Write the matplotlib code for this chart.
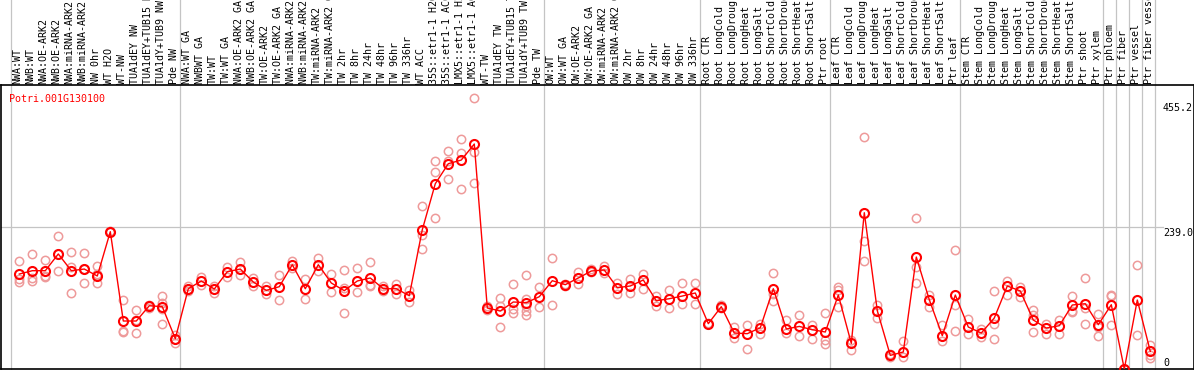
import matplotlib
matplotlib.use("Agg")
import matplotlib.pyplot as plt

# ---------------- data ----------------
gene_id = "Potri.001G130100"

sample_labels = [
    "NWA:WT", "NWB:WT", "NWA:OE-ARK2", "NWB:OE-ARK2", "NWA:miRNA-ARK2", "NWB:miRNA-ARK2",
    "NW 0hr", "WT H2O", "WT-NW", "TUA1dEY NW", "TUA1dEY+TUB15 NW", "TUA1dY+TUB9 NW", "Pde NW",
    "NWA:WT GA", "NWBWT GA", "TW:WT", "TW:WT GA", "NWA:OE-ARK2 GA", "NWB:OE-ARK2 GA",
    "TW:OE-ARK2", "TW:OE-ARK2 GA", "NWA:miRNA-ARK2 GA", "NWB:miRNA-ARK2 GA", "TW:miRNA-ARK2",
    "TW:miRNA-ARK2 GA", "TW 2hr", "TW 8hr", "TW 24hr", "TW 48hr", "TW 96hr", "TW 336hr",
    "WT ACC", "35S::etr1-1 H2O", "35S::etr1-1 ACC", "LMX5::etr1-1 H2O", "LMX5::etr1-1 ACC",
    "WT-TW", "TUA1dEY TW", "TUA1dEY+TUB15 TW", "TUA1dY+TUB9 TW", "Pde TW",
    "OW:WT", "OW:WT GA", "OW:OE-ARK2", "OW:OE-ARK2 GA", "OW:miRNA-ARK2", "OW:miRNA-ARK2 GA",
    "OW 2hr", "OW 8hr", "OW 24hr", "OW 48hr", "OW 96hr", "OW 336hr",
    "Root CTR", "Root LongCold", "Root LongDrought", "Root LongHeat", "Root LongSalt",
    "Root ShortCold", "Root ShortDrought", "Root ShortHeat", "Root ShortSalt", "Ptr root",
    "Leaf CTR", "Leaf LongCold", "Leaf LongDrought", "Leaf LongHeat", "Leaf LongSalt",
    "Leaf ShortCold", "Leaf ShortDrought", "Leaf ShortHeat", "Leaf ShortSalt", "Ptr leaf",
    "Stem CTR", "Stem LongCold", "Stem LongDrought", "Stem LongHeat", "Stem LongSalt",
    "Stem ShortCold", "Stem ShortDrought", "Stem ShortHeat", "Stem ShortSalt", "Ptr shoot",
    "Ptr xylem", "Ptr phloem", "Ptr fiber", "Ptr vessel", "Ptr fiber vessel",
]

mean_values = [
    159.7, 165.3, 165.3, 193.4, 165.3, 168.1, 156.4, 230.9, 80.7, 80.7, 106.4, 104.8, 51.0,
    135.0, 148.0, 134.5, 163.6, 168.1, 146.3, 132.2, 138.4, 175.4, 135.0, 175.4, 144.6,
    131.7, 148.0, 153.0, 135.0, 135.0, 123.2, 234.2, 311.6, 345.2, 351.4, 378.3,
    102.6, 97.5, 112.7, 111.5, 121.6,
    148.5, 141.8, 153.0, 164.8, 166.5, 136.7, 139.6, 149.7, 114.8, 118.2, 122.7, 127.8,
    76.2, 104.8, 60.5, 59.4, 69.4, 135.0, 67.3, 71.6, 66.1, 62.2,
    124.4, 43.1, 262.8, 98.0, 22.9, 28.6, 188.3, 116.5, 56.0, 124.4,
    70.6, 60.5, 85.8, 139.6, 131.2, 82.4, 68.9, 72.8, 107.6, 109.8, 74.5,
    108.1, 0.0, 116.0, 29.6,
]

replicate_values = [
    [181.6, 151.3, 146.8], [193.4, 153.0, 147.3], [183.3, 156.9, 154.0], [223.6, 193.4, 164.8],
    [197.2, 172.0, 127.8], [195.6, 168.1, 144.6], [173.7, 160.2, 144.6], [231.0, 230.0, 232.0],
    [116.0, 64.4, 62.7], [99.2, 60.5, 82.4], [108.0, 103.0, 106.0], [123.2, 110.3, 101.4, 76.2],
    [57.7, 43.7, 51.0],
    [138.9, 131.7, 135.0], [154.0, 141.8], [140.0, 127.8], [170.8, 154.7], [179.3, 158.6],
    [153.0, 140.0], [138.9, 126.1], [158.0, 116.5], [181.6, 169.8], [151.3, 118.2],
    [186.0, 164.1], [159.7, 130.0], [165.8, 94.2, 136.2], [170.3, 130.0],
    [180.4, 141.8, 138.9], [139.6, 131.7], [143.4, 126.6], [132.2, 112.0],
    [274.6, 225.8, 201.8], [349.8, 331.3, 253.9], [367.1, 349.1, 320.0],
    [386.8, 363.2, 302.7], [455.7, 364.9, 312.8],
    [105.3, 99.7], [118.7, 106.4, 70.6], [142.3, 101.4, 94.2],
    [158.0, 118.2, 105.3, 97.5, 90.1], [138.4, 104.3],
    [187.2, 107.6], [143.4, 140.0], [162.4, 142.9], [168.0, 163.0], [172.5, 161.4],
    [145.1, 126.6], [151.8, 127.2], [159.7, 134.5], [122.1, 105.3], [132.2, 102.6],
    [144.6, 108.6], [144.6, 110.0],
    [78.0, 75.0], [108.0, 102.6], [70.6, 52.6], [74.5, 33.6], [75.0, 58.9],
    [161.4, 126.6, 114.8], [82.9, 60.5], [91.3, 54.8], [74.5, 50.4], [94.2, 48.1, 42.0],
    [137.9, 132.2, 104.3], [49.3, 32.5], [390.1, 215.2, 182.1], [108.1, 85.8], [25.0, 20.0],
    [46.4, 19.5], [253.9, 170.8, 145.1], [124.9, 104.3], [74.5, 46.4], [200.6, 108.1, 64.4],
    [84.1, 59.4], [67.3, 53.8], [131.7, 76.2, 50.4], [147.3, 124.4], [138.4, 121.1],
    [99.2, 90.8, 62.7], [76.2, 58.9], [82.4, 59.4], [123.2, 98.0, 95.2],
    [153.0, 101.9, 76.2], [93.0, 70.0, 56.0],
    [124.9, 122.7, 74.5], [0.0, 0.0, 0.0], [174.9, 57.7], [40.9, 24.0, 18.5],
]

group_starts = [0, 13, 41, 53, 63, 73, 84, 85, 86, 87, 88]
axis_labels = ["455.2", "239.0", "0"]
axis_label_values = [455.2, 239.0, 0.0]
grid_value = 239.0

# ---------------- layout ----------------
W, H = 1194, 370
fig = plt.figure(figsize=(W / 100, H / 100), dpi=100)
fig.patch.set_facecolor("white")
ax_top_px = 85      # from top
ax_bot_px = 369     # from top
ax = fig.add_axes([0.5 / W, (H - ax_bot_px) / H, 1193 / W, (ax_bot_px - ax_top_px) / H])

px_per_unit = 0.5947
x0_px, dx_px = 19.3, 13.0
ax.set_xlim((0.5 - x0_px) / dx_px, (1193.5 - x0_px) / dx_px)
ax.set_ylim(0, (ax_bot_px - ax_top_px) / px_per_unit)
ax.set_xticks([])
ax.set_yticks([])
for s in ax.spines.values():
    s.set_color("black")
    s.set_linewidth(1.2)

mono = "DejaVu Sans Mono"
fs = 7.2
grid_col = "#c4c4c4"

# vertical group separators (extend through label area)
top_axes = (ax_bot_px - 0) / (ax_bot_px - ax_top_px)
for g in group_starts:
    ax.axvline(g - 8 / dx_px, 0, top_axes, color=grid_col, lw=0.9, clip_on=False, zorder=0)

# horizontal grid line
ax.axhline(grid_value, 0, 1163 / W, color=grid_col, lw=0.9, zorder=0)

n = len(mean_values)
xs = list(range(n))

# replicates
rx, ry = [], []
for i, reps in enumerate(replicate_values):
    for v in reps:
        rx.append(i)
        ry.append(v)
ax.plot(rx, ry, linestyle="none", marker="o", markersize=6, markerfacecolor="none",
        markeredgecolor="#ee9a9a", markeredgewidth=1.1, zorder=2)

# mean line
ax.plot(xs, mean_values, color="#ff0000", lw=1.0, marker="o", markersize=6.5,
        markerfacecolor="none", markeredgecolor="#ff0000", markeredgewidth=1.5, zorder=3)

# top rotated sample labels
lab_y = (ax_bot_px - 83.5) / (ax_bot_px - ax_top_px)
trans = ax.get_xaxis_transform()
for i, lab in enumerate(sample_labels):
    ax.text(i - 0.12, lab_y, lab, rotation=90, ha="center", va="bottom",
            fontsize=fs, family=mono, transform=trans, clip_on=False)

# title
def px2val(p):
    return (ax_bot_px - p) / px_per_unit

ax.text((9.5 - x0_px) / dx_px, px2val(101.8), gene_id, color="#ff0000", fontsize=fs,
        family=mono, ha="left", va="baseline")

# right-side value labels
label_x = (1163 - x0_px) / dx_px
baselines_px = [111.0, 236.0, 365.5]
for txt, b in zip(axis_labels, baselines_px):
    ax.text(label_x, px2val(b), txt, fontsize=fs, family=mono, ha="left",
            va="baseline", clip_on=True)

fig.savefig("out.png", dpi=100)
